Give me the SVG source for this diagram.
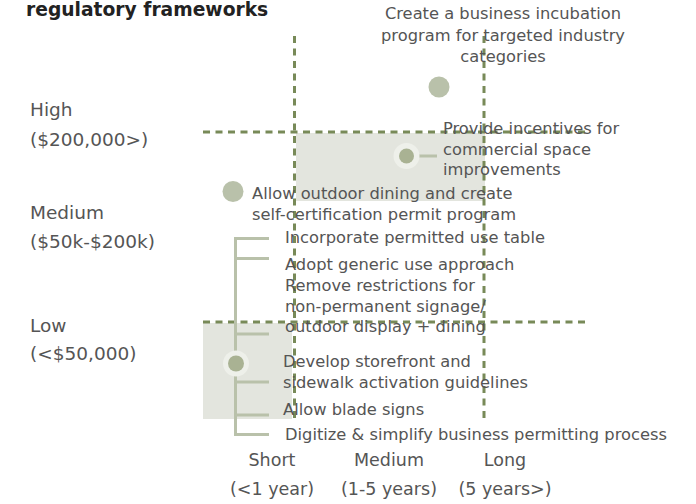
<svg xmlns="http://www.w3.org/2000/svg" width="696" height="504" viewBox="0 0 696 504">
<style>
.t{font-family:"DejaVu Sans","Liberation Sans",sans-serif;font-size:16.3px;fill:#555555}
.ax{font-family:"DejaVu Sans","Liberation Sans",sans-serif;font-size:17.5px;fill:#555555}
.ay{font-family:"DejaVu Sans","Liberation Sans",sans-serif;font-size:18.5px;fill:#555555}
.title{font-family:"DejaVu Sans","Liberation Sans",sans-serif;font-size:18.7px;font-weight:bold;fill:#222222}
.grid{stroke:#788a58;stroke-width:3;stroke-dasharray:7 5.5;fill:none}
.zone{fill:#e3e5de}
.conn{stroke:#b9c1aa;stroke-width:3;fill:none}
.dot{fill:#b9c1aa}
.halo{fill:#eef0ea}
.core{fill:#a9b293}
</style>
<rect width="696" height="504" fill="#ffffff"/>
<text class="title" x="26" y="16">regulatory frameworks</text>
<g id="zones">
<rect class="zone" x="296" y="133" width="189" height="68"/>
<rect class="zone" x="203" y="323" width="89" height="96"/>
</g>
<g id="grid">
<line class="grid" x1="294.5" y1="36" x2="294.5" y2="419"/>
<line class="grid" x1="484" y1="36" x2="484" y2="419"/>
<line class="grid" x1="203" y1="132" x2="586" y2="132"/>
<line class="grid" x1="203" y1="322" x2="586" y2="322"/>
</g>
<g id="connectors">
<line class="conn" x1="414" y1="156" x2="437" y2="156"/>
<path class="conn" d="M269 238.5H235.5V434.5H269M235.5 258.5H269M235.5 334H269M235.5 382H269M235.5 415H269"/>
</g>
<g id="axis-y">
<text class="ay" x="30" y="116">High</text>
<text class="ay" x="30" y="146">($200,000&gt;)</text>
<text class="ay" x="30" y="219">Medium</text>
<text class="ay" x="30" y="248">($50k-$200k)</text>
<text class="ay" x="30" y="332">Low</text>
<text class="ay" x="30" y="360">(&lt;$50,000)</text>
</g>
<g id="axis-x" text-anchor="middle">
<text class="ax" x="272" y="466">Short</text>
<text class="ax" x="272" y="495">(&lt;1 year)</text>
<text class="ax" x="389" y="466">Medium</text>
<text class="ax" x="389" y="495">(1-5 years)</text>
<text class="ax" x="505" y="466">Long</text>
<text class="ax" x="505" y="495">(5 years&gt;)</text>
</g>
<g id="incubation">
<circle class="dot" cx="439" cy="87" r="10.5"/>
<text class="t" text-anchor="middle"><tspan x="503" y="19">Create a business incubation</tspan><tspan x="503" y="40.5">program for targeted industry</tspan><tspan x="503" y="62">categories</tspan></text>
</g>
<g id="incentives">
<circle class="halo" cx="406.5" cy="156" r="13"/>
<circle class="core" cx="406.5" cy="156" r="7.5"/>
<text class="t"><tspan x="443" y="134">Provide incentives for</tspan><tspan x="443" y="154.5">commercial space</tspan><tspan x="443" y="175">improvements</tspan></text>
</g>
<g id="outdoor-dining">
<circle class="dot" cx="233" cy="191.5" r="10.5"/>
<text class="t"><tspan x="252" y="199">Allow outdoor dining and create</tspan><tspan x="252" y="219.5">self-certification permit program</tspan></text>
</g>
<g id="low-short">
<circle class="halo" cx="236" cy="363.5" r="13"/>
<circle class="core" cx="236" cy="363.5" r="8"/>
<text class="t" x="285" y="243">Incorporate permitted use table</text>
<text class="t" x="285" y="269.5">Adopt generic use approach</text>
<text class="t"><tspan x="285" y="291">Remove restrictions for</tspan><tspan x="285" y="311.5">non-permanent signage/</tspan><tspan x="285" y="332">outdoor display + dining</tspan></text>
<text class="t"><tspan x="283" y="366.5">Develop storefront and</tspan><tspan x="283" y="388">sidewalk activation guidelines</tspan></text>
<text class="t" x="283" y="414.5">Allow blade signs</text>
<text class="t" x="285" y="439.5">Digitize &amp; simplify business permitting process</text>
</g>
</svg>
